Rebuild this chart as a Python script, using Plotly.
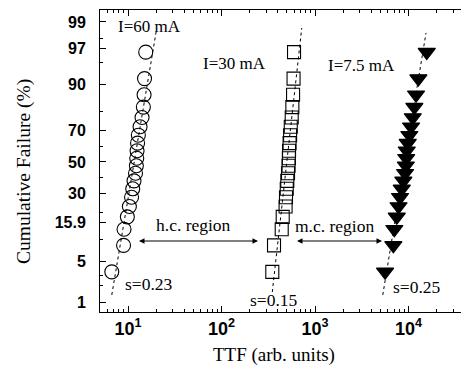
from statistics import NormalDist
import plotly.graph_objects as go

# ---------------- data ----------------
cum_fail_pct = [3.4, 8.3, 13.2, 18.1, 23.0, 27.9, 32.8, 37.7, 42.6, 47.5,
                52.5, 57.4, 62.3, 67.2, 72.1, 77.0, 81.9, 86.8, 91.7, 96.6]

ttf_60mA = [6.70, 8.95, 9.06, 9.83, 10.33, 10.90, 11.22, 11.58, 12.02, 12.27,
            12.39, 12.48, 12.64, 12.89, 13.44, 14.11, 14.58, 14.84, 15.01, 15.46]
ttf_30mA = [349, 364, 440, 451, 484, 489, 498, 505, 514, 521,
            525, 527, 534, 541, 550, 563, 572, 582, 589, 596]
ttf_7p5mA = [5610, 6880, 7050, 7480, 7820, 8110, 8460, 8800, 9180, 9350,
             9450, 9570, 9800, 10200, 10640, 11100, 11540, 12030, 12740, 15660]

# lognormal fit lines (end points)
fit_60_ttf = [6.70, 20.3]
fit_60_pct = [1.36, 98.7]
fit_30_ttf = [349, 721]
fit_30_pct = [1.54, 98.7]
fit_7p5_ttf = [5300, 15380]
fit_7p5_pct = [1.36, 98.4]

y_tick_pct = [1, 5, 15.9, 30, 50, 70, 90, 97, 99]
y_tick_text = ["1", "5", "15.9", "30", "50", "70", "90", "97", "99"]
y_minor_pct = [2, 3, 10, 20, 40, 60, 80, 95, 98]
x_tick_vals = [10, 100, 1000, 10000]
x_tick_text = ["10<sup>1</sup>", "10<sup>2</sup>", "10<sup>3</sup>", "10<sup>4</sup>"]

# ---------------- helpers ----------------
nd = NormalDist()


def probit(pcts):
    return [nd.inv_cdf(p / 100.0) for p in pcts]


W, H = 461, 369
ML, MR, MT, MB = 100, 0, 10, 57
PW, PH = W - ML - MR, H - MT - MB


def paper(xp, yp):
    return (xp - ML) / PW, (H - MB - yp) / PH


serif = "Liberation Serif"
sans = "Liberation Sans"

fig = go.Figure()

marker_line = dict(color="black", width=1.1)
for ttf, sym, size in [
    (ttf_60mA, "circle-open", 14),
    (ttf_30mA, "square-open", 13),
    (ttf_7p5mA, "triangle-down", 15),
]:
    fig.add_trace(go.Scatter(
        x=ttf, y=probit(cum_fail_pct), mode="markers",
        marker=dict(symbol=sym, size=size, color="black", line=marker_line),
        showlegend=False, cliponaxis=False))

for fx, fp in [(fit_60_ttf, fit_60_pct), (fit_30_ttf, fit_30_pct), (fit_7p5_ttf, fit_7p5_pct)]:
    fig.add_trace(go.Scatter(
        x=fx, y=probit(fp), mode="lines",
        line=dict(color="black", width=1, dash="dot"),
        showlegend=False))

annotations = []


def text(t, xp, yp, size=17.5, angle=0):
    x, y = paper(xp, yp)
    annotations.append(dict(text=t, x=x, y=y, xref="paper", yref="paper",
                            showarrow=False, xanchor="center", yanchor="middle",
                            textangle=angle,
                            font=dict(family=serif, size=size, color="black")))


text("I=60 mA", 149, 26, 17)
text("I=30 mA", 234, 63, 17)
text("I=7.5 mA", 361, 65, 17)
text("h.c. region", 193, 225)
text("m.c. region", 334, 226)
text("s=0.23", 149, 284)
text("s=0.15", 274, 300)
text("s=0.25", 417, 287)
text("Cumulative Failure (%)", 24, 172, 19.5, -90)
text("TTF (arb. units)", 274, 355, 19)


def darrow(x1p, x2p, yp):
    x, y = paper(x2p, yp)
    annotations.append(dict(text=" ", x=x, y=y, xref="paper", yref="paper",
                            showarrow=True, ax=x1p - x2p, ay=0,
                            arrowside="end+start", arrowhead=2, startarrowhead=2,
                            arrowsize=1.1, startarrowsize=1.1, arrowwidth=1,
                            arrowcolor="black"))


darrow(136, 258, 241)
darrow(294, 382, 241)

fig.update_layout(
    width=W, height=H,
    margin=dict(l=ML, r=MR, t=MT, b=MB, pad=0),
    paper_bgcolor="white", plot_bgcolor="white",
    annotations=annotations,
    xaxis=dict(
        type="log", range=[0.700, 4.561],
        tickmode="array", tickvals=x_tick_vals, ticktext=x_tick_text,
        ticks="inside", ticklen=6, tickcolor="black",
        showline=True, linecolor="black", linewidth=1, mirror="allticks",
        showgrid=False, zeroline=False,
        tickfont=dict(family=sans, size=18, color="black", weight="bold"),
        minor=dict(tickvals=[m * 10 ** d for d in range(0, 5) for m in range(2, 10)],
                   ticks="inside", ticklen=3, tickcolor="black", showgrid=False),
    ),
    yaxis=dict(
        range=[-2.492, 2.525],
        tickmode="array", tickvals=probit(y_tick_pct), ticktext=y_tick_text,
        ticks="inside", ticklen=6, tickcolor="black",
        showline=True, linecolor="black", linewidth=1, mirror=False,
        showgrid=False, zeroline=False,
        ticklabelstandoff=10,
        tickfont=dict(family=sans, size=16, color="black", weight="bold"),
        minor=dict(tickvals=probit(y_minor_pct), ticks="inside", ticklen=3,
                   tickcolor="black", showgrid=False),
    ),
)

fig.write_html("out.html")
